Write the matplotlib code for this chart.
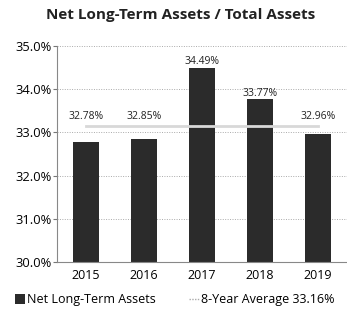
import numpy as np
import matplotlib.pyplot as plt
from matplotlib.patches import Patch
from matplotlib.lines import Line2D

plt.rcParams['font.family'] = ['Open Sans', 'DejaVu Sans']

years = ["2015", "2016", "2017", "2018", "2019"]
ratio = [32.78, 32.85, 34.49, 33.77, 32.96]
avg_8yr = 33.16
yticks = [30.0, 31.0, 32.0, 33.0, 34.0, 35.0]

fig = plt.figure(figsize=(3.47, 3.24), dpi=100)
ax = fig.add_axes([0.164, 0.191, 0.836, 0.667])

x = np.arange(len(years))
ax.bar(x, [v - 30 for v in ratio], bottom=30, width=0.45, color="#2b2b2b", zorder=2)

# average line sits on top of the bars
ax.plot([x[0], x[-1]], [avg_8yr, avg_8yr], color="#d8d8d8", lw=2, zorder=3)

for xi, v in zip(x, ratio):
    ax.text(xi, max(v + 0.14, 33.38), f"{v:.2f}%", ha="center", va="center",
            fontsize=7.5, color="#222222", zorder=4)

ax.set_xlim(-0.5, 4.5)
ax.set_ylim(30, 35)
ax.set_xticks(x)
ax.set_xticklabels(years, fontsize=9)
ax.set_yticks(yticks)
ax.set_yticklabels([f"{t:.1f}%" for t in yticks], fontsize=9.3)
ax.tick_params(axis="x", length=0, pad=5)
ax.tick_params(axis="y", length=3, width=0.8, color="#777777", pad=1)
ax.yaxis.grid(True, linestyle=(0, (1, 1.5)), color="#aaaaaa", lw=0.7, zorder=0)

for s in ["top", "right"]:
    ax.spines[s].set_visible(False)
ax.spines["left"].set_color("#888888")
ax.spines["bottom"].set_color("#888888")

fig.text(0.52, 0.955, "Net Long-Term Assets / Total Assets", ha="center", va="center",
         fontsize=11, fontweight="bold", color="#222222")

handles = [Patch(facecolor="#2b2b2b", edgecolor="none"),
           Line2D([], [], color="#aaaaaa", lw=1, linestyle=(0, (1, 1)))]
fig.legend(handles, ["Net Long-Term Assets", "8-Year Average 33.16%"],
           loc="center left", bbox_to_anchor=(0.025, 0.075), ncol=2, frameon=False,
           fontsize=9, handlelength=0.8, handleheight=0.8, handletextpad=0.2,
           columnspacing=2.6, borderpad=0)

fig.savefig("out.png", dpi=100)
